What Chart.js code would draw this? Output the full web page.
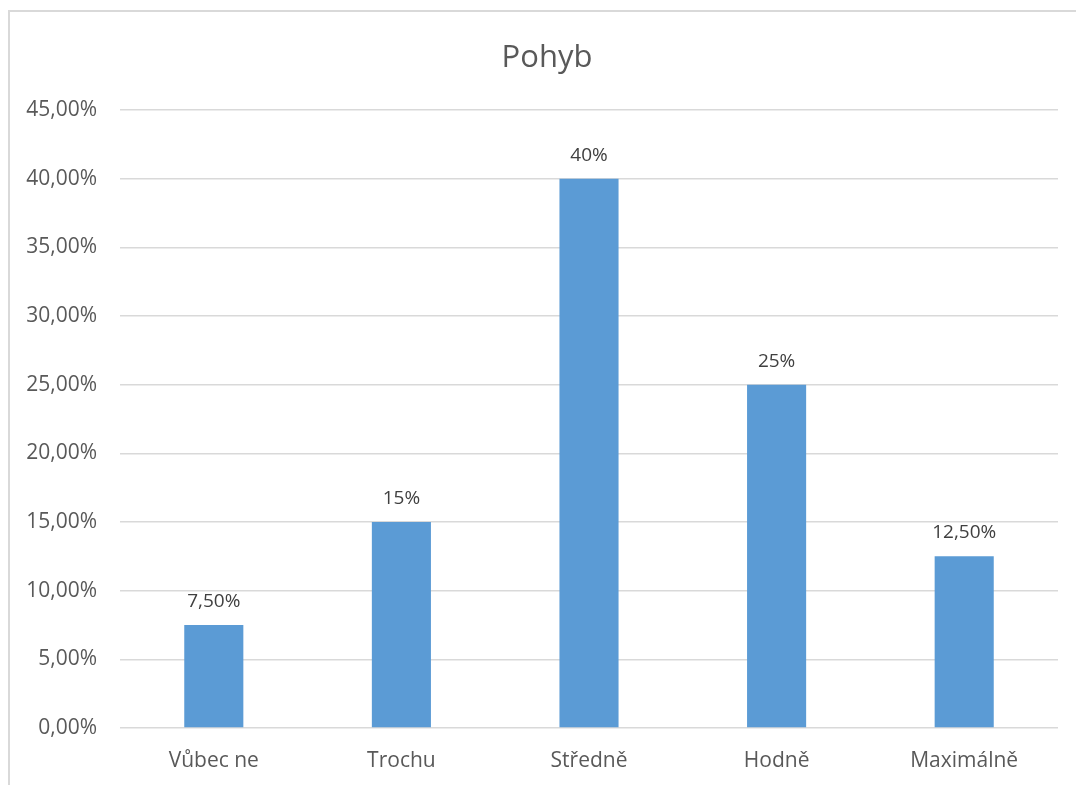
<!DOCTYPE html>
<html lang="cs">
<head>
  <meta charset="UTF-8">
  <title>Pohyb</title>
  <script src="https://cdn.jsdelivr.net/npm/chart.js"></script>
  <style>
    html, body { margin: 0; padding: 0; background: #fff; overflow: hidden; }
    #frame {
      position: absolute; left: 8px; top: 10px; width: 1200px; height: 900px;
      border-left: 2px solid #d9d9d9; border-top: 2px solid #d9d9d9;
    }
    #chart { position: absolute; left: 0; top: 0; }
  </style>
</head>
<body>
  <div id="frame"></div>
  <canvas id="chart" width="1096" height="785"></canvas>

  <script>
    // data
    const chartTitle = "Pohyb";
    const categories = ["Vůbec ne", "Trochu", "Středně", "Hodně", "Maximálně"];
    const values = [7.5, 15, 40, 25, 12.5];
    const valueLabels = ["7,50%", "15%", "40%", "25%", "12,50%"];
    const yTicks = [0, 5, 10, 15, 20, 25, 30, 35, 40, 45];

    const FONT = "'Open Sans', 'DejaVu Sans', sans-serif";

    // title is centred on the whole chart frame, not on the canvas
    const frameTitle = {
      id: "frameTitle",
      afterDraw(chart) {
        const ctx = chart.ctx;
        ctx.save();
        ctx.font = "31px " + FONT;
        ctx.fillStyle = "#595959";
        ctx.textAlign = "center";
        ctx.textBaseline = "alphabetic";
        ctx.fillText(chartTitle, 547, 67);
        ctx.restore();
      }
    };

    // labels over the bars
    const barLabels = {
      id: "barLabels",
      afterDatasetsDraw(chart) {
        const ctx = chart.ctx;
        const meta = chart.getDatasetMeta(0);
        ctx.save();
        ctx.font = "19px " + FONT;
        ctx.fillStyle = "#404040";
        ctx.textAlign = "center";
        ctx.textBaseline = "alphabetic";
        meta.data.forEach((bar, i) => {
          ctx.fillText(valueLabels[i], bar.x, bar.y - 18);
        });
        ctx.restore();
      }
    };

    new Chart(document.getElementById("chart"), {
      type: "bar",
      data: {
        labels: categories,
        datasets: [{
          data: values,
          backgroundColor: "#5b9bd5",
          borderWidth: 0,
          barPercentage: 1,
          categoryPercentage: 0.315
        }]
      },
      options: {
        responsive: false,
        animation: false,
        devicePixelRatio: 1,
        layout: { padding: { left: 0, right: 38, top: 110, bottom: 0 } },
        plugins: {
          legend: { display: false },
          tooltip: { enabled: false },
          title: { display: false }
        },
        scales: {
          x: {
            grid: { display: false },
            border: { display: false },
            ticks: {
              color: "#595959",
              font: { family: FONT, size: 21 },
              padding: 12,
              maxRotation: 0
            },
            afterFit: s => { s.height = 57; }
          },
          y: {
            min: 0,
            max: 45,
            afterBuildTicks: s => { s.ticks = yTicks.map(v => ({ value: v })); },
            grid: { color: "#d9d9d9", lineWidth: 1.5, drawTicks: false },
            border: { display: false },
            ticks: {
              color: "#595959",
              font: { family: FONT, size: 21 },
              padding: 23,
              callback: v => v.toFixed(2).replace(".", ",") + "%"
            },
            afterFit: s => { s.width = 120; }
          }
        }
      },
      plugins: [barLabels, frameTitle]
    });
  </script>
</body>
</html>
